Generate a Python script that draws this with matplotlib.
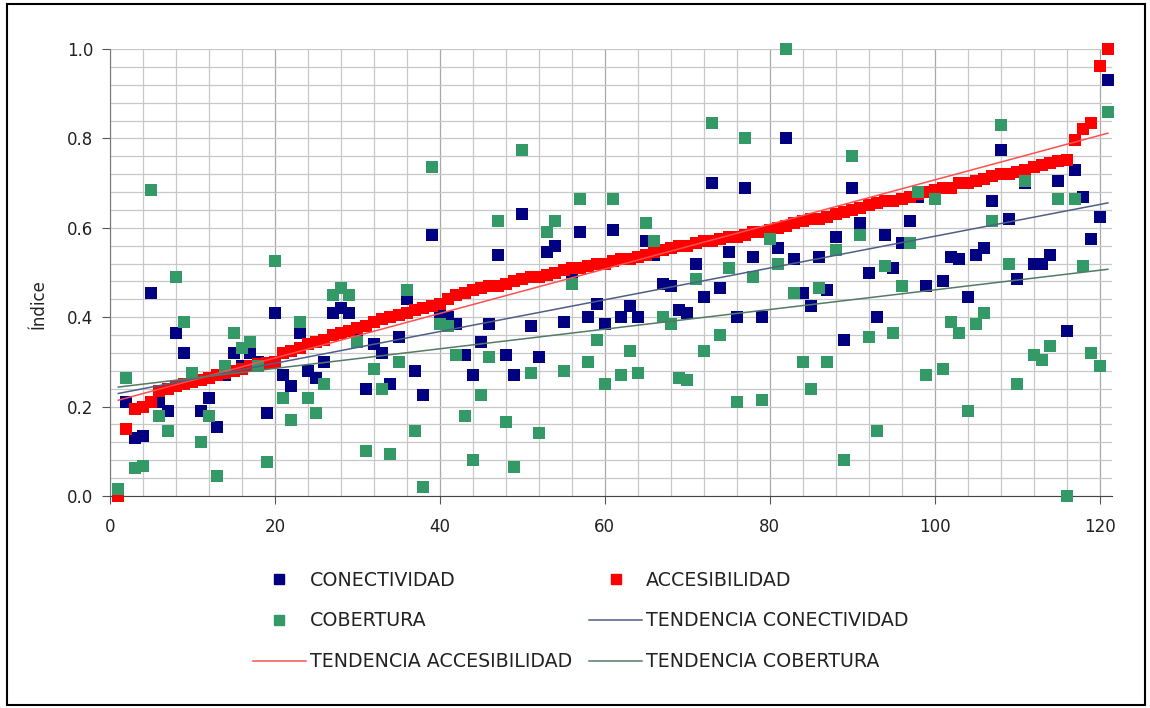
import matplotlib
matplotlib.use("Agg")
import matplotlib.pyplot as plt
import numpy as np
from matplotlib.patches import Rectangle
from matplotlib.lines import Line2D
from matplotlib.ticker import MultipleLocator, FormatStrFormatter

# one value per unit, x = 1..121
conectividad = [
    0.00, 0.21, 0.13, 0.135, 0.455, 0.21, 0.19, 0.365, 0.32, 0.26,
    0.19, 0.22, 0.155, 0.27, 0.32, 0.29, 0.32, 0.30, 0.185, 0.41,
    0.27, 0.245, 0.365, 0.28, 0.265, 0.30, 0.41, 0.42, 0.41, 0.37,
    0.24, 0.34, 0.32, 0.25, 0.355, 0.44, 0.28, 0.225, 0.585, 0.41,
    0.40, 0.385, 0.315, 0.27, 0.345, 0.385, 0.54, 0.315, 0.27, 0.63,
    0.38, 0.31, 0.545, 0.56, 0.39, 0.50, 0.59, 0.40, 0.43, 0.385,
    0.595, 0.40, 0.425, 0.40, 0.57, 0.54, 0.475, 0.47, 0.415, 0.41,
    0.52, 0.445, 0.70, 0.465, 0.545, 0.40, 0.69, 0.535, 0.40, 0.59,
    0.555, 0.80, 0.53, 0.455, 0.425, 0.535, 0.46, 0.58, 0.35, 0.69,
    0.61, 0.50, 0.40, 0.585, 0.51, 0.565, 0.615, 0.67, 0.47, 0.68,
    0.48, 0.535, 0.53, 0.445, 0.54, 0.555, 0.66, 0.775, 0.62, 0.485,
    0.70, 0.52, 0.52, 0.54, 0.705, 0.37, 0.73, 0.67, 0.575, 0.625,
    0.93,
]

accesibilidad = [
    0.00, 0.15, 0.195, 0.20, 0.21, 0.235, 0.24, 0.245, 0.25, 0.255,
    0.26, 0.265, 0.27, 0.275, 0.28, 0.285, 0.29, 0.295, 0.298, 0.30,
    0.32, 0.325, 0.33, 0.34, 0.345, 0.35, 0.36, 0.365, 0.37, 0.375,
    0.38, 0.39, 0.395, 0.40, 0.405, 0.41, 0.415, 0.42, 0.425, 0.43,
    0.44, 0.45, 0.455, 0.46, 0.465, 0.47, 0.47, 0.475, 0.48, 0.485,
    0.49, 0.49, 0.495, 0.50, 0.505, 0.51, 0.51, 0.515, 0.52, 0.52,
    0.525, 0.53, 0.53, 0.535, 0.54, 0.545, 0.55, 0.555, 0.56, 0.56,
    0.565, 0.57, 0.57, 0.575, 0.58, 0.58, 0.585, 0.59, 0.59, 0.595,
    0.60, 0.605, 0.61, 0.615, 0.62, 0.62, 0.625, 0.63, 0.635, 0.64,
    0.645, 0.65, 0.655, 0.66, 0.66, 0.665, 0.67, 0.675, 0.68, 0.685,
    0.69, 0.69, 0.70, 0.70, 0.705, 0.71, 0.715, 0.72, 0.72, 0.725,
    0.73, 0.735, 0.74, 0.745, 0.75, 0.752, 0.797, 0.82, 0.835, 0.962,
    1.00,
]

cobertura = [
    0.015, 0.265, 0.063, 0.067, 0.685, 0.18, 0.145, 0.49, 0.39, 0.275,
    0.12, 0.18, 0.045, 0.29, 0.365, 0.33, 0.345, 0.29, 0.075, 0.525,
    0.22, 0.17, 0.39, 0.22, 0.185, 0.25, 0.45, 0.465, 0.45, 0.345,
    0.10, 0.285, 0.24, 0.095, 0.30, 0.46, 0.145, 0.02, 0.735, 0.385,
    0.38, 0.315, 0.18, 0.08, 0.225, 0.31, 0.615, 0.165, 0.065, 0.775,
    0.275, 0.14, 0.59, 0.615, 0.28, 0.475, 0.665, 0.30, 0.35, 0.25,
    0.665, 0.27, 0.325, 0.275, 0.61, 0.57, 0.40, 0.385, 0.265, 0.26,
    0.485, 0.325, 0.835, 0.36, 0.51, 0.21, 0.80, 0.49, 0.215, 0.575,
    0.52, 1.00, 0.455, 0.30, 0.24, 0.465, 0.30, 0.55, 0.08, 0.76,
    0.585, 0.355, 0.145, 0.515, 0.365, 0.47, 0.565, 0.68, 0.27, 0.665,
    0.285, 0.39, 0.365, 0.19, 0.385, 0.41, 0.615, 0.83, 0.52, 0.25,
    0.705, 0.315, 0.305, 0.335, 0.665, 0.00, 0.665, 0.515, 0.32, 0.29,
    0.86,
]

x = np.arange(1, len(accesibilidad) + 1)

navy = "#000080"
red = "#ff0000"
green = "#339966"

plt.rcParams['font.family'] = ['DejaVu Sans']

fig = plt.figure(figsize=(11.5, 7.08), dpi=100)
ax = fig.add_axes([110/1150, 1 - 496/708, 1002/1150, 447/708])

ms = 8.6
ax.plot(x, conectividad, 's', color=navy, ms=ms, mew=0, zorder=3, clip_on=False)
ax.plot(x, accesibilidad, 's', color=red, ms=ms, mew=0, zorder=4, clip_on=False)
ax.plot(x, cobertura, 's', color=green, ms=ms, mew=0, zorder=5, clip_on=False)

# linear trends
xt = np.array([1, 121])
for vals, col in [(accesibilidad, "#ff5050"), (conectividad, "#4f5f86"), (cobertura, "#557a66")]:
    p = np.polyfit(x, vals, 1)
    ax.plot(xt, np.polyval(p, xt), color=col, lw=1.1, zorder=6)

ax.set_xlim(0, 121.5)
ax.set_ylim(0, 1.0)
ax.xaxis.set_major_locator(MultipleLocator(20))
ax.xaxis.set_minor_locator(MultipleLocator(4))
ax.yaxis.set_major_locator(MultipleLocator(0.2))
ax.yaxis.set_minor_locator(MultipleLocator(0.04))
ax.yaxis.set_major_formatter(FormatStrFormatter('%.1f'))

ax.grid(which='minor', color='#c8c8c8', lw=0.9)
ax.grid(which='major', axis='y', color='#c8c8c8', lw=0.9)
ax.grid(which='major', axis='x', color='#a8a8a8', lw=0.9)
ax.set_axisbelow(True)

for s in ['top', 'right']:
    ax.spines[s].set_visible(False)
ax.spines['left'].set_color('#777777')
ax.spines['bottom'].set_color('#444444')
ax.tick_params(which='minor', length=0)
ax.tick_params(which='major', length=6, color='#555555', labelsize=12, labelcolor='#222222')
ax.tick_params(axis='x', pad=10)
ax.tick_params(axis='y', pad=6)

ax.set_ylabel('Índice', fontsize=12, color='#222222')
ax.yaxis.set_label_coords(-0.062, 0.43)

handles = [
    Line2D([], [], marker='s', ls='', color=navy, ms=7),
    Line2D([], [], marker='s', ls='', color=green, ms=7),
    Line2D([], [], color="#ff5050", lw=1.1),
    Line2D([], [], marker='s', ls='', color=red, ms=7),
    Line2D([], [], color="#4f5f86", lw=1.1),
    Line2D([], [], color="#557a66", lw=1.1),
]
labels = ['CONECTIVIDAD', 'COBERTURA', 'TENDENCIA ACCESIBILIDAD',
          'ACCESIBILIDAD', 'TENDENCIA CONECTIVIDAD', 'TENDENCIA COBERTURA']
fig.legend(handles, labels, ncol=2, frameon=False, fontsize=13.7,
           loc='upper left', bbox_to_anchor=(243/1150, 1 - 561/708), borderpad=0,
           handlelength=2.8, handletextpad=0.2, columnspacing=0.9,
           labelspacing=1.15, labelcolor='#222222')

fig.patches.append(Rectangle((0.006, 0.004), 0.99, 0.99, transform=fig.transFigure,
                             fill=False, ec='black', lw=1.5))

fig.savefig('out.png', dpi=100)
